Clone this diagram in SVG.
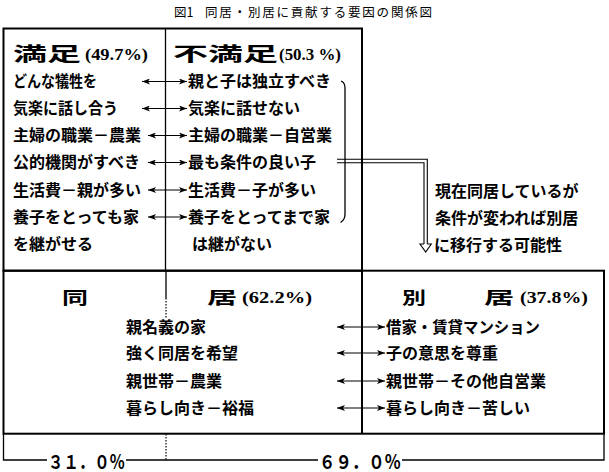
<svg xmlns="http://www.w3.org/2000/svg" width="609" height="472" viewBox="0 0 609 472">
<style>
  text { font-family: "Noto Sans CJK JP", "Noto Sans CJK SC", sans-serif; fill: #000; }
  .t { font-size: 16px; font-weight: 700; }
  .h { font-size: 19px; font-weight: 700; }
  .h2 { font-size: 17px; font-weight: 700; }
  .pct { font-family: "Liberation Serif", serif; font-size: 17px; font-weight: 700; }
  .title { font-size: 12.5px; }
  .num { font-size: 19px; font-weight: 700; }
  .box { fill: none; stroke: #000; stroke-width: 2; }
  .thin { fill: none; stroke: #000; stroke-width: 1.3; }
  .arr { fill: none; stroke: #000; stroke-width: 1; marker-start: url(#ah); marker-end: url(#ah); }
  .dot { stroke: #000; stroke-width: 1.2; stroke-dasharray: 1.5 1.5; }
  .dbl { fill: none; stroke: #000; stroke-width: 1.1; }
</style>
<defs>
  <marker id="ah" viewBox="0 0 8 6" refX="8" refY="3" markerWidth="8" markerHeight="6" markerUnits="userSpaceOnUse" orient="auto-start-reverse">
    <path d="M0,0 L8,3 L0,6 L2,3 z" fill="#000"/>
  </marker>
</defs>

<g id="title">
  <text class="title" x="174" y="16.5">図1</text>
  <text class="title" x="205" y="16.5" textLength="227" lengthAdjust="spacing">同居・別居に貢献する要因の関係図</text>
</g>

<g id="top-box">
  <rect class="box" x="3.5" y="28.5" width="358.5" height="242.2"/>
  <line class="thin" x1="165.5" y1="28.5" x2="165.5" y2="270.7"/>
</g>

<g id="satisfied">
  <text class="h" x="13" y="61" textLength="68" lengthAdjust="spacingAndGlyphs">満足</text>
  <text class="pct" x="85" y="60" textLength="63" lengthAdjust="spacingAndGlyphs">(49.7%)</text>
  <text class="t" x="13" y="87" textLength="84" lengthAdjust="spacingAndGlyphs">どんな犠牲を</text>
  <text class="t" x="13" y="114" textLength="105" lengthAdjust="spacingAndGlyphs">気楽に話し合う</text>
  <text class="t" x="13" y="141">主婦の職業－農業</text>
  <text class="t" x="13" y="168">公的機関がすべき</text>
  <text class="t" x="13" y="196">生活費－親が多い</text>
  <text class="t" x="13" y="223">養子をとっても家</text>
  <text class="t" x="13" y="250">を継がせる</text>
</g>

<g id="dissatisfied">
  <text class="h" x="173" y="61" textLength="105" lengthAdjust="spacingAndGlyphs">不満足</text>
  <text class="pct" x="279" y="60" textLength="62" lengthAdjust="spacingAndGlyphs">(50.3 %)</text>
  <text class="t" x="188" y="87">親と子は独立すべき</text>
  <text class="t" x="188" y="114">気楽に話せない</text>
  <text class="t" x="188" y="141">主婦の職業－自営業</text>
  <text class="t" x="188" y="168">最も条件の良い子</text>
  <text class="t" x="188" y="196">生活費－子が多い</text>
  <text class="t" x="188" y="223">養子をとってまで家</text>
  <text class="t" x="192" y="250">は継がない</text>
</g>

<g id="note">
  <text class="t" x="435" y="197">現在同居しているが</text>
  <text class="t" x="435" y="224">条件が変われば別居</text>
  <text class="t" x="434" y="251">に移行する可能性</text>
</g>

<g id="bottom-box">
  <rect class="box" x="3.5" y="270.7" width="600.5" height="163"/>
  <line class="box" x1="362" y1="28.5" x2="362" y2="433.7"/>
  <line class="thin" x1="166" y1="270.7" x2="166" y2="298"/>
  <line class="dot" x1="166" y1="298" x2="166" y2="318"/>
</g>

<g id="cohabit">
  <text class="h2" x="62" y="304" textLength="26" lengthAdjust="spacingAndGlyphs">同</text>
  <text class="h2" x="207" y="304" textLength="30" lengthAdjust="spacingAndGlyphs">居</text>
  <text class="pct" x="242" y="303" textLength="70" lengthAdjust="spacingAndGlyphs">(62.2%)</text>
  <text class="t" x="126" y="333">親名義の家</text>
  <text class="t" x="126" y="359">強く同居を希望</text>
  <text class="t" x="126" y="387">親世帯－農業</text>
  <text class="t" x="126" y="414">暮らし向き－裕福</text>
</g>

<g id="separate">
  <text class="h2" x="402" y="304" textLength="24" lengthAdjust="spacingAndGlyphs">別</text>
  <text class="h2" x="484" y="304" textLength="30" lengthAdjust="spacingAndGlyphs">居</text>
  <text class="pct" x="520" y="303" textLength="68" lengthAdjust="spacingAndGlyphs">(37.8%)</text>
  <text class="t" x="386" y="333" textLength="154" lengthAdjust="spacingAndGlyphs">借家・賃貸マンション</text>
  <text class="t" x="386" y="359">子の意思を尊重</text>
  <text class="t" x="386" y="387">親世帯－その他自営業</text>
  <text class="t" x="386" y="414">暮らし向き－苦しい</text>
</g>

<g id="share-bar">
  <path class="thin" d="M3.5,433.7 V460 H47 M126,460 H318 M402,460 H604 V433.7"/>
  <line class="dot" x1="166" y1="434" x2="166" y2="460"/>
  <text class="num" x="48" y="468.5" textLength="77" lengthAdjust="spacingAndGlyphs">３１．０％</text>
  <text class="num" x="319" y="468.5" textLength="82" lengthAdjust="spacingAndGlyphs">６９．０％</text>
</g>

<g id="connectors">
  <line class="arr" x1="142" y1="81.5" x2="187" y2="81.5"/>
  <line class="arr" x1="142" y1="108.5" x2="187" y2="108.5"/>
  <line class="arr" x1="148" y1="135.5" x2="187" y2="135.5"/>
  <line class="arr" x1="148" y1="162.5" x2="187" y2="162.5"/>
  <line class="arr" x1="148" y1="190" x2="187" y2="190"/>
  <line class="arr" x1="148" y1="217" x2="187" y2="217"/>
  <line class="arr" x1="337" y1="327" x2="385" y2="327"/>
  <line class="arr" x1="337" y1="353" x2="385" y2="353"/>
  <line class="arr" x1="337" y1="381" x2="385" y2="381"/>
  <line class="arr" x1="337" y1="408" x2="385" y2="408"/>
  <path class="thin" d="M341,81 Q345,82.5 345,88 L345,214 Q345,220 340.5,222.5" stroke-width="1.2"/>
  <path class="dbl" d="M337,159.3 H427.3 V244 M337,162.7 H424 V244"/>
  <path class="dbl" d="M424,244 H420 L425.7,252 L431.3,244 H427.3" fill="#fff"/>
</g>
</svg>
